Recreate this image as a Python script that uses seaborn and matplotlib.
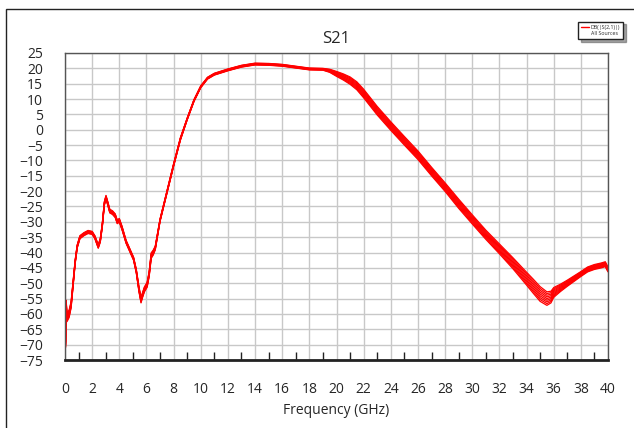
import numpy as np
import pandas as pd
import matplotlib
matplotlib.use("Agg")
import matplotlib.pyplot as plt
import seaborn as sns
from matplotlib.lines import Line2D
from matplotlib.patches import Rectangle
from matplotlib.ticker import MultipleLocator

# ==========================================================
# Data (S21 in dB vs frequency in GHz)
# ==========================================================
freq = [0.04, 0.08, 0.15, 0.3, 0.45, 0.6, 0.75, 0.9, 1.1, 1.4, 1.7, 2.0, 2.2,
        2.45, 2.6, 2.75, 2.9, 3.02, 3.15, 3.3, 3.5, 3.7, 3.85, 4.0, 4.2, 4.5,
        4.8, 5.05, 5.25, 5.45, 5.6, 5.7, 5.85, 6.05, 6.2, 6.35, 6.5, 6.65,
        7.0, 7.5, 8.0, 8.5, 9.0, 9.5, 10.0, 10.5, 11.0, 11.5, 12.0, 13.0,
        14.0, 15.0, 16.0, 17.0, 18.0, 19.0, 19.5, 20.0, 20.5, 21.0, 21.5,
        22.0, 22.5, 23.0, 24.0, 25.0, 26.0, 27.0, 28.0, 29.0, 30.0, 31.0,
        32.0, 33.0, 34.0, 34.5, 35.0, 35.5, 35.8, 36.0, 36.5, 37.0, 37.5,
        38.0, 38.5, 39.0, 39.5, 39.8, 40.0]

s21_nominal = [-70, -57, -61, -60, -57, -50, -43, -38, -35, -34, -33.3, -33.6,
               -35, -38, -36, -31, -24, -22, -24, -26.5, -27, -28, -30, -29.5,
               -32, -36.5, -39.5, -42, -46, -52, -55.5, -54, -52, -50.5, -47,
               -41, -40, -38.5, -29.5, -20.5, -11.5, -3, 3.5, 9.5, 14, 16.8,
               18.1, 18.8, 19.5, 20.7, 21.4, 21.3, 21.0, 20.4, 19.8, 19.7,
               19.2, 18.2, 17.2, 16.0, 14.3, 11.8, 9.0, 6.2, 1.2, -3.6, -8.3,
               -13.6, -18.7, -24.1, -29.2, -34.2, -38.8, -43.5, -48.5, -51,
               -53.5, -55, -54.5, -53, -51.5, -50, -48.5, -47, -45.5, -44.7,
               -44.2, -43.8, -45.5]

# half-width of the bundle of traces at each frequency point
s21_spread = [1.0, 1.5, 1.5, 1.2, 1.0, 0.8, 0.6, 0.5, 0.5, 0.5, 0.5, 0.5, 0.5,
              0.6, 0.6, 0.6, 0.6, 0.6, 0.6, 0.6, 0.6, 0.6, 0.6, 0.6, 0.6, 0.5,
              0.5, 0.5, 0.6, 0.8, 0.9, 0.8, 0.8, 0.8, 0.8, 0.9, 0.8, 0.6,
              0.4, 0.4, 0.4, 0.4, 0.3, 0.3, 0.3, 0.3, 0.3, 0.3, 0.3, 0.3,
              0.3, 0.3, 0.3, 0.3, 0.3, 0.3, 0.5, 0.8, 1.0, 1.2, 1.3, 1.4, 1.4,
              1.4, 1.4, 1.4, 1.4, 1.4, 1.4, 1.5, 1.5, 1.5, 1.6, 1.8, 2.1, 2.3,
              2.4, 2.2, 1.9, 1.6, 1.2, 1.0, 0.9, 0.8, 0.8, 0.8, 0.8, 0.8, 0.8]

trace_weights = [-1.0, -0.75, -0.5, -0.25, 0.0, 0.25, 0.5, 0.75, 1.0]

rows = []
for k, w in enumerate(trace_weights):
    for f, v, s in zip(freq, s21_nominal, s21_spread):
        rows.append({"trace": k, "freq": f, "s21": v + w * s})
df = pd.DataFrame(rows)

# ==========================================================
# Plot
# ==========================================================
sns.set_style("white")
plt.rcParams["font.family"] = ["Open Sans", "DejaVu Sans"]

fig = plt.figure(figsize=(6.34, 4.28), dpi=100)
ax = fig.add_axes([65 / 634, 1 - 360 / 428, (608 - 65) / 634, (360 - 53) / 428])

sns.lineplot(data=df, x="freq", y="s21", units="trace", estimator=None,
             color="#ff0000", linewidth=0.9, ax=ax, legend=False)

ax.set_xlim(0, 40)
ax.set_ylim(-75, 25)
ax.xaxis.set_major_locator(MultipleLocator(2))
ax.xaxis.set_minor_locator(MultipleLocator(1))
ax.yaxis.set_major_locator(MultipleLocator(5))
ax.grid(True, which="major", color="#c8c8c8", linewidth=1.0)
ax.set_axisbelow(True)

ax.tick_params(axis="x", which="major", length=0, pad=16, labelsize=10)
ax.tick_params(axis="x", which="minor", length=6, width=1, direction="in",
               color="#222222", bottom=True)
ax.tick_params(axis="y", which="major", length=0, pad=16, labelsize=10)

for side in ["top", "left", "right"]:
    ax.spines[side].set_color("#555555")
    ax.spines[side].set_linewidth(1.0)
ax.spines["bottom"].set_color("#222222")
ax.spines["bottom"].set_linewidth(2.0)

ax.set_xlabel("Frequency (GHz)", fontsize=10, labelpad=4)
ax.set_ylabel("")
ax.set_title("S21", fontsize=12, pad=7)

# legend box in the top right corner
handle = Line2D([0], [0], color="#ff0000", linewidth=1.0)
blank = Line2D([0], [0], color="none")
fig.legend([handle, blank], ["DB(|S(2,1)|)", "All Sources"], loc="upper right",
           bbox_to_anchor=(626 / 634, 1 - 19 / 428), fontsize=3.8,
           frameon=True, fancybox=False, shadow=True, handlelength=1.5,
           handletextpad=0.3, borderpad=0.6, labelspacing=0.2,
           edgecolor="#222222")

# outer frame of the chart
fig.add_artist(Rectangle((6 / 634, -0.05), 1.0, 1.05 - 9 / 428,
                         transform=fig.transFigure, fill=False,
                         edgecolor="#222222", linewidth=1.0))

fig.savefig("out.png", dpi=100)
